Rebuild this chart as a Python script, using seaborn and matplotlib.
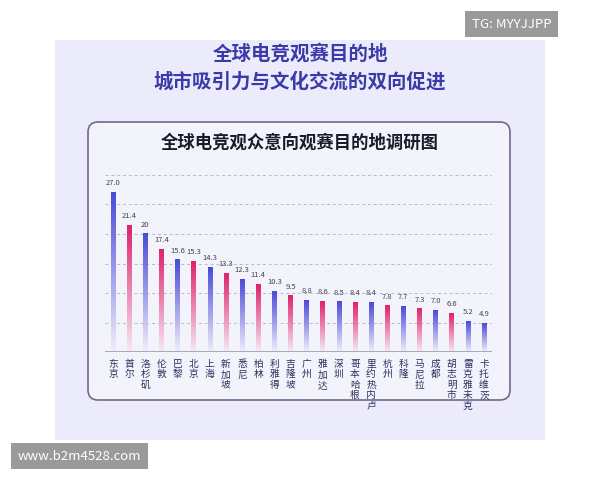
import matplotlib
matplotlib.use("Agg")
import matplotlib.pyplot as plt
import seaborn as sns
import numpy as np
import pandas as pd
from matplotlib.patches import FancyBboxPatch, Rectangle
from matplotlib.colors import LinearSegmentedColormap

sns.set_theme(style="white")
plt.rcParams['font.family'] = ['Noto Sans CJK SC', 'DejaVu Sans']

cities = ["东京","首尔","洛杉矶","伦敦","巴黎","北京","上海","新加坡","悉尼","柏林","利雅得","吉隆坡",
          "广州","雅加达","深圳","哥本哈根","里约热内卢","杭州","科隆","马尼拉","成都","胡志明市","雷克雅未克","卡托维茨"]
values = [27.0,21.4,20,17.4,15.6,15.3,14.3,13.3,12.3,11.4,10.3,9.5,8.8,8.6,8.5,8.4,8.4,7.8,7.7,7.3,7.0,6.6,5.2,4.9]
value_labels = ["27.0","21.4","20","17.4","15.6","15.3","14.3","13.3","12.3","11.4","10.3","9.5",
                "8.8","8.6","8.5","8.4","8.4","7.8","7.7","7.3","7.0","6.6","5.2","4.9"]
groups = ["b","p","b","p","b","p","b","p","b","p","b","p","b","p","b","p","b","p","b","p","b","p","b","b"]

fig = plt.figure(figsize=(6, 4.8), dpi=100)
fig.patch.set_facecolor("white")
bg = fig.add_axes([0, 0, 1, 1], zorder=-1)
bg.set_xlim(0, 600); bg.set_ylim(480, 0); bg.axis("off")
bg.add_patch(Rectangle((55, 40), 490, 400, facecolor="#ecebfb", edgecolor="none"))
bg.add_patch(FancyBboxPatch((88, 122), 422, 278, boxstyle="round,pad=0,rounding_size=10",
                            facecolor="#f3f3fc", edgecolor="#6e6a8a", linewidth=1.2))
bg.text(300, 54, "全球电竞观赛目的地", ha="center", va="center", fontsize=14, fontweight="bold", color="#3a3aa8")
bg.text(300, 82, "城市吸引力与文化交流的双向促进", ha="center", va="center", fontsize=14, fontweight="bold", color="#3a3aa8")
bg.text(300, 143, "全球电竞观众意向观赛目的地调研图", ha="center", va="center", fontsize=12.5, fontweight="bold", color="#1a1a2a")
bg.text(472, 24, "TG: MYYJJPP", ha="left", va="center", fontsize=9.5, color="white",
        bbox=dict(boxstyle="square,pad=0.5", facecolor="#9a9a9a", edgecolor="none"))
bg.text(18, 456, "www.b2m4528.com", ha="left", va="center", fontsize=9.5, color="white",
        bbox=dict(boxstyle="square,pad=0.5", facecolor="#9a9a9a", edgecolor="none"))

ax = fig.add_axes([0.175, 1-352/480, 0.645, 177/480], zorder=1)
ax.set_facecolor("none")
df = pd.DataFrame({"city": cities, "value": values})
sns.barplot(data=df, x="city", y="value", ax=ax, color="white", width=0.28, saturation=1)
ax.set_ylim(0, 30)
ax.set_xlim(-0.5, len(cities)-0.5)
for y in [5, 10, 15, 20, 25, 30]:
    ax.axhline(y, color="#b8b8cc", linestyle=(0, (3, 3)), linewidth=0.7, zorder=0)
cmaps = {"b": LinearSegmentedColormap.from_list("b", ["#f0eefa", "#4a4ad8"]),
         "p": LinearSegmentedColormap.from_list("p", ["#f6eaf4", "#e0206e"])}
grad = np.linspace(0, 1, 256).reshape(-1, 1)
for patch, g, lab in zip(ax.patches, groups, value_labels):
    x0, w, h = patch.get_x(), patch.get_width(), patch.get_height()
    patch.set_alpha(0)
    ax.imshow(grad, cmap=cmaps[g], origin="lower", aspect="auto",
              extent=[x0, x0+w, 0, h], zorder=2)
    ax.text(x0+w/2, h+0.9, lab, ha="center", va="bottom", fontsize=5.5, color="#444455", style="italic")
ax.axhline(0, color="#9a9ab0", linewidth=1.2, zorder=3)
ax.set_xticks(range(len(cities)))
ax.set_xticklabels(["\n".join(c) for c in cities], fontsize=7, color="#303060", va="top", linespacing=1.05)
ax.tick_params(axis="x", length=0, pad=5)
ax.set_yticks([])
ax.set_xlabel(""); ax.set_ylabel("")
sns.despine(ax=ax, left=True, bottom=True)
ax.set_xlim(-0.5, len(cities)-0.5); ax.set_ylim(0, 30)

fig.savefig("out.png", dpi=100)
